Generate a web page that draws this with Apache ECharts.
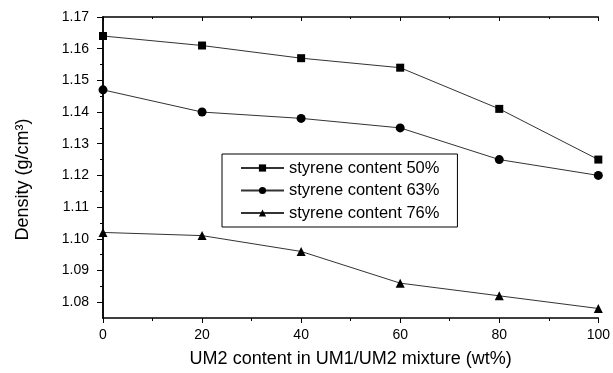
<!DOCTYPE html>
<html><head><meta charset="utf-8">
<script src="https://cdn.jsdelivr.net/npm/echarts@6/dist/echarts.min.js"></script>
<style>html,body{margin:0;padding:0;background:#fff}#c{width:613px;height:373px}</style>
</head><body><div id="c"></div>
<script>
const xValues = [0, 20, 40, 60, 80, 100];
const s50 = [1.164, 1.161, 1.157, 1.154, 1.141, 1.125];
const s63 = [1.147, 1.140, 1.138, 1.135, 1.125, 1.120];
const s76 = [1.102, 1.101, 1.096, 1.086, 1.082, 1.078];
const seriesNames = ['styrene content 50%', 'styrene content 63%', 'styrene content 76%'];
const yTicks = [1.08, 1.09, 1.10, 1.11, 1.12, 1.13, 1.14, 1.15, 1.16, 1.17];
const yMinorTicks = [1.085, 1.095, 1.105, 1.115, 1.125, 1.135, 1.145, 1.155, 1.165];

const chart = echarts.init(document.getElementById('c'), null, {renderer: 'canvas'});
const font = 'Liberation Sans, Arial, sans-serif';
function pairs(arr){ return xValues.map((x,i)=>[x, arr[i]]); }
const lineStyle = {color:'#333', width:1};
chart.setOption({
  animation:false,
  backgroundColor:'#fff',
  grid:{left:103, right:13, top:17, bottom:53},
  legend:{
    left:222, top:154, orient:'vertical',
    itemGap:5.5, itemWidth:43, itemHeight:9,
    padding:[5.5,18,5.5,18],
    borderColor:'#000', borderWidth:1,
    textStyle:{fontFamily:font, fontSize:16.5, color:'#000'},
    data:seriesNames
  },
  xAxis:[{
    type:'value', min:0, max:100, interval:20,
    name:'UM2 content in UM1/UM2 mixture (wt%)', nameLocation:'middle', nameGap:32,
    nameTextStyle:{fontFamily:font, fontSize:18, color:'#000'},
    axisLine:{lineStyle:{color:'#000', width:1.5}},
    axisTick:{show:true, inside:false, length:5, lineStyle:{color:'#000'}},
    minorTick:{show:true, splitNumber:2, length:3, lineStyle:{color:'#000'}},
    axisLabel:{fontFamily:font, fontSize:14, color:'#000', margin:10},
    splitLine:{show:false}
  },{
    type:'value', min:0, max:100, interval:20, position:'top',
    axisLine:{show:true, lineStyle:{color:'#000', width:1.5}},
    axisTick:{show:true, inside:true, length:4, lineStyle:{color:'#000'}},
    minorTick:{show:true, splitNumber:2, length:2, lineStyle:{color:'#000'}},
    axisLabel:{show:false}, splitLine:{show:false}
  }],
  yAxis:[{
    type:'value', min:1.075, max:1.17,
    name:'Density (g/cm³)', nameLocation:'middle', nameGap:71,
    nameTextStyle:{fontFamily:font, fontSize:18, color:'#000', padding:[0,24,0,0]},
    axisLine:{lineStyle:{color:'#000', width:1.5}},
    axisTick:{show:true, inside:false, length:6, lineStyle:{color:'#000'}, customValues: yTicks},
    minorTick:{show:false},
    axisLabel:{fontFamily:font, fontSize:14, color:'#000', margin:14, customValues: yTicks,
      formatter:v=>v.toFixed(2)},
    splitLine:{show:false}
  },{
    type:'value', min:1.075, max:1.17, position:'right',
    axisLine:{show:true, lineStyle:{color:'#000', width:1.5}},
    axisTick:{show:true, inside:true, length:4, lineStyle:{color:'#000'}, customValues: yTicks},
    axisLabel:{show:false, customValues: yTicks}, splitLine:{show:false}
  },{
    type:'value', min:1.075, max:1.17, position:'left',
    axisLine:{show:false},
    axisTick:{show:true, inside:false, length:3, lineStyle:{color:'#000'}, customValues: yMinorTicks},
    axisLabel:{show:false, customValues: yMinorTicks}, splitLine:{show:false}
  }],
  series:[
    {name:seriesNames[0], type:'line', data:pairs(s50), symbol:'rect', symbolSize:8,
     itemStyle:{color:'#000'}, lineStyle:lineStyle},
    {name:seriesNames[1], type:'line', data:pairs(s63), symbol:'circle', symbolSize:9,
     itemStyle:{color:'#000'}, lineStyle:lineStyle},
    {name:seriesNames[2], type:'line', data:pairs(s76), symbol:'triangle', symbolSize:9,
     itemStyle:{color:'#000'}, lineStyle:lineStyle}
  ]
});
</script></body></html>
